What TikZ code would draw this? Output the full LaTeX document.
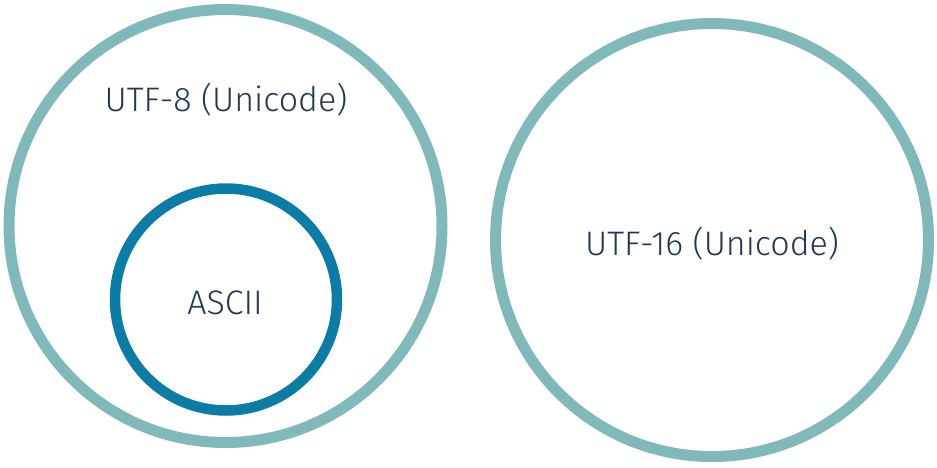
\documentclass[tikz,border=0pt]{standalone}
\usepackage{fontspec}
\setmainfont{Fira Sans}[UprightFont=* Light]
\definecolor{outerc}{HTML}{80B9B9}
\definecolor{innerc}{HTML}{0B7CA6}
\definecolor{textc}{HTML}{1E3856}
\begin{document}
\begin{tikzpicture}[x=1pt,y=-1pt,
  bigring/.style={draw=outerc,line width=11pt,circle,minimum size=433pt,inner sep=0pt},
  smallring/.style={draw=innerc,line width=10.5pt,circle,minimum size=222pt,inner sep=0pt},
  lbl/.style={text=textc,font=\fontsize{34}{40}\selectfont,inner sep=0pt,anchor=center}]
\useasboundingbox (0,0) rectangle (937,467);
\node[bigring] (utf8) at (225.5,226) {};
\node[smallring] (ascii) at (226,299.5) {};
\node[bigring] (utf16) at (712,240) {};
\node[lbl] (t8) at (226,100) {UTF-8 (Unicode)};
\node[lbl] (ta) at (225,303) {ASCII};
\node[lbl] (t16) at (712,244) {UTF-16 (Unicode)};
\end{tikzpicture}
\end{document}
